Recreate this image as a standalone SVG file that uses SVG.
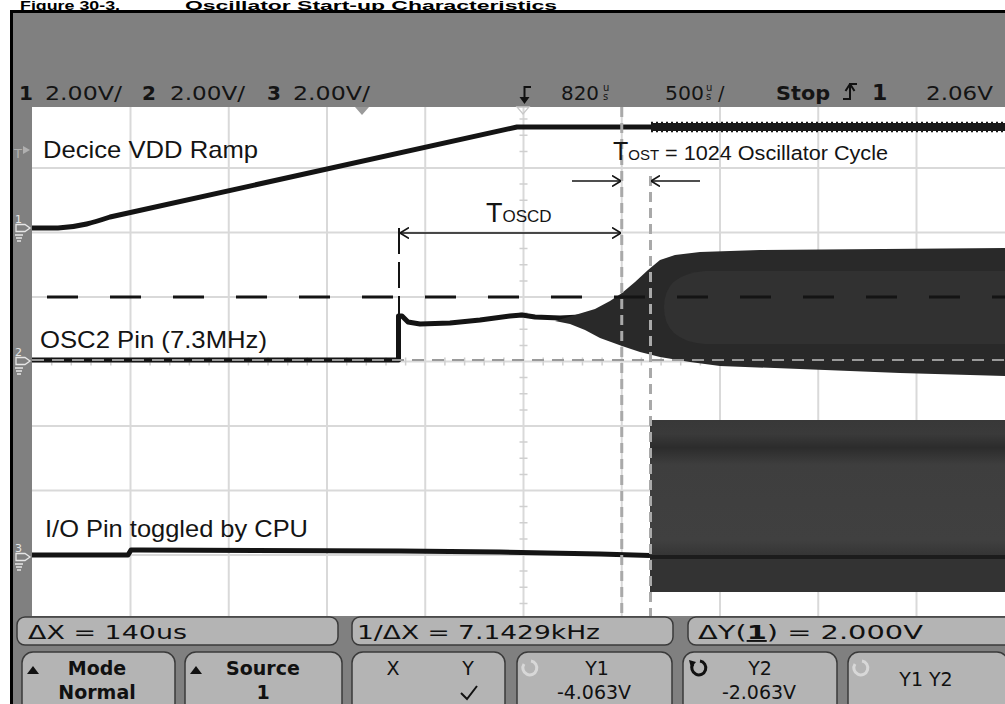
<svg xmlns="http://www.w3.org/2000/svg" width="1005" height="704" viewBox="0 0 1005 704">
<style>
.grid{stroke:#d9d9d9;stroke-width:2;fill:none}
.tick{stroke:#cfcfcf;stroke-width:1.5}
.trace{fill:none;stroke:#141414;stroke-width:5;stroke-linejoin:round;stroke-linecap:butt}
.xcur{stroke:#a9a9a9;stroke-width:3;stroke-dasharray:10 6;fill:none}
.ann{font-family:"Liberation Sans",Arial,sans-serif;fill:#141414}
.hdr{font-family:"DejaVu Sans",sans-serif;fill:#141414}
.key{fill:#b4b4b4;stroke:#3a3a3a;stroke-width:1.5}
.ktxt{font-family:"DejaVu Sans",sans-serif;fill:#111;font-size:19px}
.mk{fill:none;stroke:#e6e6e6;stroke-width:1.3}
.mkt{font-family:"DejaVu Sans",sans-serif;fill:#e6e6e6;font-size:11px}
.arr{stroke:#141414;stroke-width:1.6;fill:none}
.title{font-family:"Liberation Sans",Arial,sans-serif;font-weight:bold;font-size:12px;fill:#000}
</style>
<defs>
<marker id="chev" viewBox="0 0 9 12" refX="9" refY="6" markerWidth="9" markerHeight="12" markerUnits="userSpaceOnUse" orient="auto-start-reverse">
<path d="M0,0.5 L9,6 L0,11.5" fill="none" stroke="#141414" stroke-width="1.6"/>
</marker>
<linearGradient id="ioBlock" x1="0" y1="420" x2="0" y2="592" gradientUnits="userSpaceOnUse">
<stop offset="0" stop-color="#383838"/>
<stop offset="0.08" stop-color="#3a3a3a"/>
<stop offset="0.16" stop-color="#2c2c2c"/>
<stop offset="0.26" stop-color="#3e3e3e"/>
<stop offset="0.7" stop-color="#404040"/>
<stop offset="0.8" stop-color="#333333"/>
<stop offset="1" stop-color="#333333"/>
</linearGradient>
</defs>
<rect width="1005" height="704" fill="#ffffff"/>
<text class="title" x="20" y="9.5" textLength="100" lengthAdjust="spacingAndGlyphs">Figure 30-3.</text>
<text class="title" x="185" y="9.5" textLength="372" lengthAdjust="spacingAndGlyphs">Oscillator Start-up Characteristics</text>
<!-- scope frame -->
<rect x="10" y="10" width="995" height="694" fill="#000"/>
<rect x="13" y="13" width="992" height="691" fill="#808080"/>
<rect x="32" y="107" width="973" height="509" fill="#ffffff"/>
<!-- grid -->
<g id="graticule">
<path class="grid" d="M130.5,107V616M228.75,107V616M327,107V616M425.25,107V616M523.5,107V616M621.75,107V616M720,107V616M818.25,107V616M916.5,107V616"/>
<path class="grid" d="M32,168H1005M32,232.5H1005M32,297H1005M32,361.5H1005M32,426H1005M32,490.5H1005M32,555H1005"/>
<path class="tick" d="M519.5,119.1h8M519.5,135.2h8M519.5,151.4h8M519.5,184.1h8M519.5,200.3h8M519.5,216.4h8M519.5,248.6h8M519.5,264.8h8M519.5,280.9h8M519.5,313.1h8M519.5,329.3h8M519.5,345.4h8M519.5,377.6h8M519.5,393.8h8M519.5,409.9h8M519.5,442.1h8M519.5,458.3h8M519.5,474.4h8M519.5,506.6h8M519.5,522.8h8M519.5,538.9h8M519.5,571.1h8M519.5,587.3h8M519.5,603.4h8"/>
<path class="tick" d="M51.7,357.5v8M71.3,357.5v8M91,357.5v8M110.8,357.5v8M150.1,357.5v8M169.8,357.5v8M189.4,357.5v8M209.1,357.5v8M248.4,357.5v8M268,357.5v8M287.7,357.5v8M307.3,357.5v8M346.7,357.5v8M366.3,357.5v8M386,357.5v8M405.6,357.5v8M444.9,357.5v8M464.6,357.5v8M484.2,357.5v8M503.9,357.5v8M543.2,357.5v8M562.8,357.5v8M582.5,357.5v8M602.1,357.5v8M641.4,357.5v8M661.1,357.5v8M680.7,357.5v8M700.4,357.5v8M739.7,357.5v8M759.3,357.5v8M779,357.5v8M798.6,357.5v8M837.9,357.5v8M857.6,357.5v8M877.2,357.5v8M896.9,357.5v8M936.2,357.5v8M955.8,357.5v8M975.5,357.5v8M995.1,357.5v8"/>
</g>
<!-- header -->
<g id="header">
<text class="hdr" x="19" y="100" font-size="20" font-weight="bold">1</text>
<text class="hdr" x="45" y="100" font-size="19" textLength="77" lengthAdjust="spacingAndGlyphs">2.00V/</text>
<text class="hdr" x="142" y="100" font-size="20" font-weight="bold">2</text>
<text class="hdr" x="170" y="100" font-size="19" textLength="75" lengthAdjust="spacingAndGlyphs">2.00V/</text>
<text class="hdr" x="267" y="100" font-size="20" font-weight="bold">3</text>
<text class="hdr" x="293" y="100" font-size="19" textLength="77" lengthAdjust="spacingAndGlyphs">2.00V/</text>
<path d="M531,87H524.5V100" fill="none" stroke="#111" stroke-width="2"/>
<path d="M519.5,97H529.5L524.5,104Z" fill="#111"/>
<text class="hdr" x="561" y="100" font-size="19" textLength="38" lengthAdjust="spacingAndGlyphs">820</text>
<text class="hdr" x="603" y="91" font-size="10">u</text>
<text class="hdr" x="603" y="100" font-size="10">s</text>
<text class="hdr" x="665" y="100" font-size="19" textLength="39" lengthAdjust="spacingAndGlyphs">500</text>
<text class="hdr" x="706" y="91" font-size="10">u</text>
<text class="hdr" x="706" y="100" font-size="10">s</text>
<text class="hdr" x="718" y="100" font-size="19">/</text>
<text class="hdr" x="776" y="100" font-size="19" font-weight="bold" font-family="DejaVu Serif,serif" textLength="54" lengthAdjust="spacingAndGlyphs">Stop</text>
<path d="M843,99H850V84H857M850,84L845.5,91M850,84L854.5,91" fill="none" stroke="#111" stroke-width="2"/>
<text class="hdr" x="872" y="100" font-size="22" font-weight="bold" font-family="DejaVu Serif,serif">1</text>
<text class="hdr" x="926" y="100" font-size="19" textLength="67" lengthAdjust="spacingAndGlyphs">2.06V</text>
<path d="M355,107H369L362,115Z" fill="#9a9a9a"/>
<path d="M517,107H529L523,114Z" fill="none" stroke="#c8c8c8" stroke-width="1.3"/>
</g>
<!-- left channel markers -->
<g id="markers">
<text x="14" y="158" font-family="DejaVu Sans,sans-serif" font-size="13" fill="#b0b0b0">T</text>
<path d="M23,146L30,150L23,154Z" fill="#b0b0b0"/>
<text class="mkt" x="15" y="223">1</text>
<path class="mk" d="M16,224.5H25L30,228L25,231.5H16ZM15,235H23M16,238H22M17,241H21"/>
<text class="mkt" x="15" y="356">2</text>
<path class="mk" d="M16,357.5H25L30,361L25,364.5H16ZM15,368H23M16,371H22M17,374H21"/>
<text class="mkt" x="15" y="552">3</text>
<path class="mk" d="M16,553.5H25L30,557L25,560.5H16ZM15,564H23M16,567H22M17,570H21"/>
</g>
<!-- traces -->
<g id="ch1-vdd">
<path class="trace" d="M32,228L58,228C80,227 95,222 110,217L517,127L1005,127"/>
<path d="M651,127H1005" stroke="#1a1a1a" stroke-width="8"/>
<path d="M651,122.5H1005M651,131.5H1005" stroke="#1a1a1a" stroke-width="1.5" stroke-dasharray="2 3"/>
</g>
<g id="ch2-osc2">
<path class="trace" d="M32,360L398.5,360L398.5,316L402,316L408,322L420,324L450,323L480,320L510,316L522,315L535,317L560,318L580,317"/>
<path d="M555,321L575,315L595,309L610,301L622,293L635,282L648,270L660,260L675,255L700,252L760,250L1005,248L1005,376L900,373L800,369L720,366L690,362L660,357L640,352L622,346L600,338L585,330L570,324Z" fill="#292929"/>
<path d="M705,271Q664,274 664,307Q664,341 705,344L1005,344L1005,271Z" fill="#313131"/>
</g>
<g id="ch3-io">
<path class="trace" d="M32,555L128,555L131,550L140,550L400,551L500,552L600,554L650,555.5"/>
<rect x="650" y="420" width="355" height="172" fill="url(#ioBlock)"/>
<path d="M650,557H1005" stroke="#1c1c1c" stroke-width="4"/>
</g>
<!-- cursors -->
<g id="cursors">
<path class="xcur" d="M621.75,107V616"/>
<path class="xcur" d="M650.5,176V616"/>
<path d="M32,297H1005" stroke="#141414" stroke-width="3" stroke-dasharray="31 32" stroke-dashoffset="48"/>
<path d="M32,360H1005" stroke="#9a9a9a" stroke-width="2" stroke-dasharray="12 8"/>
</g>
<!-- annotation connectors -->
<g id="connectors">
<path d="M399,228V316" stroke="#141414" stroke-width="2" stroke-dasharray="26 8"/>
<path class="arr" d="M400,233H621" marker-start="url(#chev)" marker-end="url(#chev)"/>
<path class="arr" d="M572,181H621" marker-end="url(#chev)"/>
<path class="arr" d="M700,181H651" marker-end="url(#chev)"/>
</g>
<!-- labels -->
<g id="label-vdd"><text class="ann" x="43" y="158" font-size="24" textLength="215" lengthAdjust="spacingAndGlyphs">Decice VDD Ramp</text></g>
<g id="label-osc2"><text class="ann" x="40" y="348" font-size="24" textLength="227" lengthAdjust="spacingAndGlyphs">OSC2 Pin (7.3MHz)</text></g>
<g id="label-io"><text class="ann" x="45" y="537" font-size="24" textLength="263" lengthAdjust="spacingAndGlyphs">I/O Pin toggled by CPU</text></g>
<g id="label-toscd"><text class="ann" x="486" y="222" font-size="27">T<tspan font-size="17">OSCD</tspan></text></g>
<g id="label-tost"><text class="ann" x="613" y="160" font-size="25">T<tspan font-size="15">OST</tspan></text>
<text class="ann" x="665" y="160" font-size="20" textLength="223" lengthAdjust="spacingAndGlyphs">= 1024 Oscillator Cycle</text></g>
<!-- measurement bar -->
<g id="measure">
<rect class="key" x="17" y="617" width="321" height="28" rx="8"/>
<text class="ktxt" x="28" y="639" textLength="159" lengthAdjust="spacingAndGlyphs">ΔX = 140us</text>
<rect class="key" x="352" y="617" width="321" height="28" rx="8"/>
<text class="ktxt" x="357" y="639" textLength="243" lengthAdjust="spacingAndGlyphs">1/ΔX = 7.1429kHz</text>
<rect class="key" x="688" y="617" width="330" height="28" rx="8"/>
<text class="ktxt" x="698" y="639" textLength="225" lengthAdjust="spacingAndGlyphs">ΔY(<tspan font-weight="bold" text-decoration="underline">1</tspan>) = 2.000V</text>
</g>
<!-- softkeys -->
<g id="softkeys">
<rect class="key" x="22" y="652" width="153" height="62" rx="11"/>
<path d="M27,674L33,666L39,674Z" fill="#111"/>
<text class="ktxt" x="97" y="675" text-anchor="middle" font-weight="bold">Mode</text>
<text class="ktxt" x="97" y="699" text-anchor="middle" font-weight="bold">Normal</text>
<rect class="key" x="185" y="652" width="157" height="62" rx="11"/>
<path d="M190,674L196,666L202,674Z" fill="#111"/>
<text class="ktxt" x="263" y="675" text-anchor="middle" font-weight="bold">Source</text>
<text class="ktxt" x="263" y="699" text-anchor="middle" font-weight="bold">1</text>
<rect class="key" x="352" y="652" width="153" height="62" rx="11"/>
<text class="ktxt" x="393" y="675" text-anchor="middle">X</text>
<text class="ktxt" x="468" y="675" text-anchor="middle">Y</text>
<path d="M461,693L467,699L477,686" fill="none" stroke="#111" stroke-width="2"/>
<rect class="key" x="517" y="652" width="155" height="62" rx="11"/>
<path d="M524,664A7,7 0 1 0 531,661" fill="none" stroke="#d8d8d8" stroke-width="3"/>
<text class="ktxt" x="597" y="675" text-anchor="middle">Y1</text>
<text class="ktxt" x="594" y="699" text-anchor="middle">-4.063V</text>
<rect class="key" x="683" y="652" width="154" height="62" rx="11"/>
<path d="M693,664A7,7 0 1 0 700,661" fill="none" stroke="#111" stroke-width="3"/>
<path d="M689,660L696,662L691,668Z" fill="#111"/>
<text class="ktxt" x="760" y="675" text-anchor="middle">Y2</text>
<text class="ktxt" x="759" y="699" text-anchor="middle">-2.063V</text>
<rect class="key" x="848" y="652" width="160" height="62" rx="11"/>
<path d="M855,664A7,7 0 1 0 862,661" fill="none" stroke="#d8d8d8" stroke-width="3"/>
<text class="ktxt" x="926" y="686" text-anchor="middle">Y1 Y2</text>
</g>
</svg>
